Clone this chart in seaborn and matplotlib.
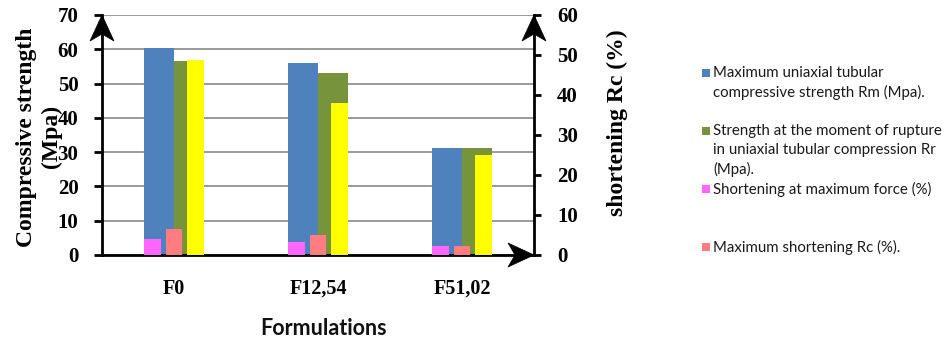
import matplotlib
matplotlib.use("Agg")
import matplotlib.pyplot as plt
import seaborn as sns
import pandas as pd
from matplotlib.patches import Polygon, Rectangle
from matplotlib.transforms import ScaledTranslation

# ---- data -------------------------------------------------------------
formulations = ["F0", "F12,54", "F51,02"]

# strengths (left axis, Mpa)
rm_strength = [60.5, 55.9, 31.3]
rr_strength = [56.6, 53.0, 31.3]

# shortenings (right axis, %)
shortening_max_force = [3.9, 3.3, 2.25]
shortening_max = [6.4, 5.0, 2.25]
shortening_rupture = [48.75, 37.9, 25.0]

legend_labels = [
    "Maximum uniaxial tubular\ncompressive strength Rm (Mpa).",
    "Strength at the moment of rupture\nin uniaxial tubular compression Rr\n(Mpa).",
    "Shortening at maximum force (%)",
    "Maximum shortening Rc (%).",
]

c_blue, c_green = "#4F81BD", "#77933C"
c_magenta, c_salmon, c_yellow = "#FF66FF", "#FF7C80", "#FFFF00"

# ---- long-form tables ---------------------------------------------------
strength_df = pd.DataFrame({
    "Formulation": formulations * 2,
    "value": rm_strength + rr_strength,
    "series": ["Rm"] * 3 + ["Rr"] * 3,
})
shortening_df = pd.DataFrame({
    "Formulation": formulations * 3,
    "value": shortening_max_force + shortening_max + shortening_rupture,
    "series": ["max_force"] * 3 + ["max"] * 3 + ["rupture"] * 3,
})

# ---- style --------------------------------------------------------------
sns.set_style("white")
plt.rcParams["font.family"] = ["Liberation Serif", "DejaVu Serif"]
plt.rcParams["font.weight"] = "bold"
plt.rcParams["text.color"] = "black"
plt.rcParams["axes.labelcolor"] = "black"

W, H = 942, 341
fig = plt.figure(figsize=(W / 100, H / 100), dpi=100)
ax = fig.add_axes([102 / W, 1 - 255 / H, 432 / W, 240 / H])
ax2 = ax.twinx()

sns.barplot(data=strength_df, x="Formulation", y="value", hue="series",
            palette=[c_blue, c_green], width=0.417, saturation=1,
            errorbar=None, legend=False, linewidth=0, ax=ax)
sns.barplot(data=shortening_df, x="Formulation", y="value", hue="series",
            palette=[c_magenta, c_salmon, c_yellow], width=0.458, gap=0.227,
            saturation=1, errorbar=None, legend=False, linewidth=0, ax=ax2)

ax.set_xlim(-0.5, 2.5)
ax.set_ylim(0, 70)
ax2.set_ylim(0, 60)
ax.set_yticks(range(0, 71, 10))
ax2.set_yticks(range(0, 61, 10))

ax.yaxis.grid(True, color="#9a9a9a", linewidth=1.4)
ax.xaxis.grid(False)
ax.set_axisbelow(True)

for s in ("top", "right"):
    ax.spines[s].set_visible(False)
for s in ("top", "left", "bottom"):
    ax2.spines[s].set_visible(False)
for sp in (ax.spines["left"], ax.spines["bottom"], ax2.spines["right"]):
    sp.set_color("black")
    sp.set_linewidth(2.0)

ax.tick_params(axis="y", left=True, direction="out", length=5.5, width=2,
               color="black", labelsize=15, pad=11.5, labelcolor="black")
ax2.tick_params(axis="y", right=True, direction="out", length=5, width=2,
                color="black", labelsize=15, pad=11.5, labelcolor="black")
ax.tick_params(axis="x", bottom=False, length=0, labelsize=14.5, pad=17,
               labelcolor="black")
for lab in ax.get_xticklabels() + ax.get_yticklabels() + ax2.get_yticklabels():
    lab.set_fontweight("bold")

# axis titles
ax.set_ylabel("Compressive strength\n(Mpa)", fontsize=17, fontweight="bold",
              rotation=90, ha="center", va="center", linespacing=1.28,
              color="black")
ax.yaxis.set_label_coords(-0.146, 0.492)
ax2.set_ylabel("shortening Rc (%)", fontsize=17, fontweight="bold",
               rotation=90, ha="center", va="center", color="black")
ax2.yaxis.set_label_coords(1.192, 0.552)
ax.set_xlabel("Formulations", fontsize=15.5, fontweight="bold",
              family=["Lato", "DejaVu Sans"], va="baseline", color="#111111")
ax.xaxis.set_label_coords(0.512, -0.333)


# arrow heads at the ends of the axis lines
def arrow_head(x, y, direction):
    L, Wd, notch = 26, 12, 7
    if direction == "up":
        pts = [(0, 0), (Wd, -L), (0, -L + notch), (-Wd, -L)]
    else:
        pts = [(0, 0), (-L, Wd), (-L + notch, 0), (-L, -Wd)]
    pts = [(px / fig.dpi, py / fig.dpi) for px, py in pts]
    trans = fig.dpi_scale_trans + ScaledTranslation(x, y, ax.transAxes)
    fig.add_artist(Polygon(pts, closed=True, transform=trans,
                           facecolor="black", edgecolor="black", lw=0.5))


arrow_head(0, 1, "up")
arrow_head(1, 1, "up")
arrow_head(1, 0, "right")

# legend
legend_colors = [c_blue, c_green, c_magenta, c_salmon]
legend_first_line_y = [73, 131, 189, 247]
line_step = 19
for label, color, y0 in zip(legend_labels, legend_colors, legend_first_line_y):
    fig.add_artist(Rectangle((702 / W, 1 - (y0 + 4) / H), 7.5 / W, 8 / H,
                             transform=fig.transFigure, facecolor=color,
                             edgecolor="none"))
    for i, line in enumerate(label.split("\n")):
        fig.text(713 / W, 1 - (y0 + i * line_step) / H, line,
                 ha="left", va="center", fontsize=10.8, fontweight="normal",
                 family=["Lato", "DejaVu Sans"], color="#1a1a1a")

fig.savefig("out.png", dpi=100)
